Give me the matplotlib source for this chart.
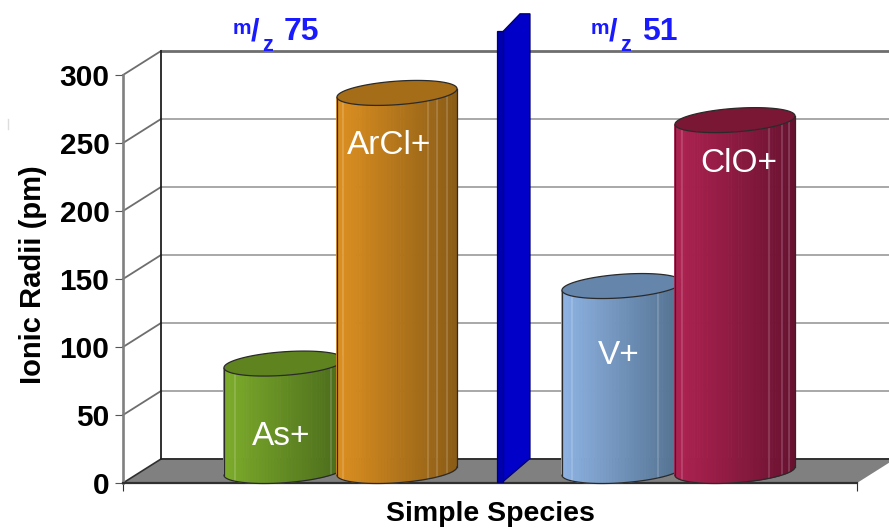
#3d style cylinder chart
import matplotlib
matplotlib.use('Agg')
import matplotlib.pyplot as plt
import numpy as np
from matplotlib.patches import Polygon

plt.rcParams['font.family'] = ['Liberation Sans', 'DejaVu Sans']

species = ['As+', 'ArCl+', 'V+', 'ClO+']
radii = [79, 278, 136, 258]
yticks = [0, 50, 100, 150, 200, 250, 300]
groups = ['75', '51']

# x data units are pixels from the left axis
positions = [161, 274, 499, 612]
label_x = [158, 266, 496, 616]
label_y = [34, 248, 94, 235]
light = ['#7dad2b', '#de9020', '#8fb4e4', '#b02252']
dark = ['#4a6a1b', '#8a5c16', '#52708f', '#681230']
tops = ['#5f831f', '#a56d18', '#6585ab', '#7a1735']
streaks = [[0.09, 0.89], [0.05, 0.76, 0.83, 0.92], [0.08, 0.8, 0.94], [0.06, 0.78, 0.89, 0.95]]

PX = 408 / 300
DX = 38
DY = 24 / PX


def hex2rgb(c):
    return np.array(matplotlib.colors.to_rgb(c))


def cylinder(ax, cx, value, c1, c2, ctop, lines, z):
    a, bx, by = 56.6, 20, 12.5 / PX
    base = DY / 2
    t0 = np.arctan2(bx, a)
    t = np.linspace(np.pi + t0, 2 * np.pi + t0, 61)
    x = cx + a * np.cos(t) + bx * np.sin(t)
    y = base + by * np.sin(t)
    for i in range(60):
        f = ((x[i] + x[i + 1]) / 2 - x[0]) / (x[-1] - x[0])
        col = hex2rgb(c1) * (1 - f) + hex2rgb(c2) * f
        pts = [(x[i], y[i]), (x[i + 1], y[i + 1]), (x[i + 1], y[i + 1] + value), (x[i], y[i] + value)]
        ax.add_patch(Polygon(pts, facecolor=col, edgecolor=col, lw=0.6, zorder=z, clip_on=False))
    # pale facet lines on the side
    for f in lines:
        xl = x[0] + f * (x[-1] - x[0])
        yl = np.interp(xl, x, y)
        ax.plot([xl, xl], [yl, yl + value], color='white', alpha=0.2, lw=1.1, zorder=z + 0.1, clip_on=False)
    ax.plot([x[0], x[0]], [y[0], y[0] + value], color='#2a2a2a', lw=0.9, zorder=z + 0.2, clip_on=False)
    ax.plot([x[-1], x[-1]], [y[-1], y[-1] + value], color='#2a2a2a', lw=0.9, zorder=z + 0.2, clip_on=False)
    ax.plot(x, y, color='#2a2a2a', lw=0.9, zorder=z + 0.2, clip_on=False)
    tt = np.linspace(0, 2 * np.pi, 121)
    ex = cx + a * np.cos(tt) + bx * np.sin(tt)
    ey = base + value + by * np.sin(tt)
    ax.add_patch(Polygon(np.column_stack([ex, ey]), facecolor=ctop, edgecolor='#2a2a2a', lw=0.9,
                         zorder=z + 0.2, clip_on=False))


fig = plt.figure(figsize=(8.89, 5.28), dpi=100)
ax = fig.add_axes([123 / 889, 45 / 528, 734 / 889, 408 / 528])
ax.set_xlim(0, 734)
ax.set_ylim(0, 300)
ax.patch.set_alpha(0)

# floor
ax.add_patch(Polygon([(0, 0), (734, 0), (734 + DX, DY), (DX, DY)], facecolor='#808080',
                     edgecolor='none', zorder=1, clip_on=False))
ax.plot([DX, 800], [DY, DY], color='#303030', lw=1.4, zorder=1.5, clip_on=False)
ax.plot([0, DX], [0, DY], color='#303030', lw=1.2, zorder=1.5, clip_on=False)

# back wall and side wall
for v in yticks[1:]:
    col = '#6e6e6e' if v == 300 else '#a8a8a8'
    ax.plot([DX, 800], [v + DY, v + DY], color=col, lw=2 if v == 300 else 1.4, zorder=1, clip_on=False)
    ax.plot([0, DX], [v, v + DY], color='#6e6e6e', lw=1.3, zorder=1, clip_on=False)
ax.plot([DX, DX], [DY, 300 + DY], color='#202020', lw=1.3, zorder=1.5, clip_on=False)

# divider between the two groups
ax.add_patch(Polygon([(380, 332), (397, 345), (407, 345), (407, 18), (380, 1)], facecolor='#0000c8',
                     edgecolor='#000070', lw=0.9, zorder=3, clip_on=False))
ax.add_patch(Polygon([(374, 332), (380, 332), (380, 1), (374, 1)], facecolor='#0000b0',
                     edgecolor='#000070', lw=0.9, zorder=3, clip_on=False))

# stray scan mark at the far left of the original
ax.plot([-115, -115], [260, 268], color='#dddddd', lw=1, clip_on=False)

for i in range(len(species)):
    cylinder(ax, positions[i], radii[i], light[i], dark[i], tops[i], streaks[i], 5 + i)
    ax.text(label_x[i], label_y[i], species[i], color='white', fontsize=24, ha='center',
            va='center', zorder=10)

# m/z group headings
for off, g in zip([0, 358], groups):
    ax.text(110 + off, 327.5, 'm', color='#1a1aff', fontsize=15, fontweight='bold', va='bottom', clip_on=False)
    ax.text(128 + off, 331.5, '/', color='#1a1aff', fontsize=22, va='center', fontweight='bold', clip_on=False)
    ax.text(139 + off, 322, 'z', color='#1a1aff', fontsize=15.5, fontweight='bold', va='center', clip_on=False)
    ax.text(161 + off, 331.5, g, color='#1a1aff', fontsize=23, fontweight='bold', va='center', clip_on=False)

for s in ['top', 'right']:
    ax.spines[s].set_visible(False)
ax.spines['left'].set_color('#808080')
ax.spines['left'].set_linewidth(1.9)
ax.spines['bottom'].set_color('#303030')
ax.spines['bottom'].set_linewidth(1.6)
ax.set_yticks(yticks)
ax.set_xticks([0, 734])
ax.set_xticklabels(['', ''])
ax.tick_params(axis='y', length=5.8, color='#555555', labelsize=21.5, pad=4)
ax.tick_params(axis='x', length=6, color='#303030')
for lab in ax.get_yticklabels():
    lab.set_fontweight('bold')
ax.set_ylabel('Ionic Radii (pm)', fontsize=21, fontweight='bold', va='baseline')
ax.yaxis.set_label_coords(-82 / 734, (483 - 274.5) / 408)
ax.set_xlabel('Simple Species', fontsize=20.5, fontweight='bold', va='baseline')
ax.xaxis.set_label_coords(0.5, (483 - 521) / 408)

fig.savefig('out.png', dpi=100)
